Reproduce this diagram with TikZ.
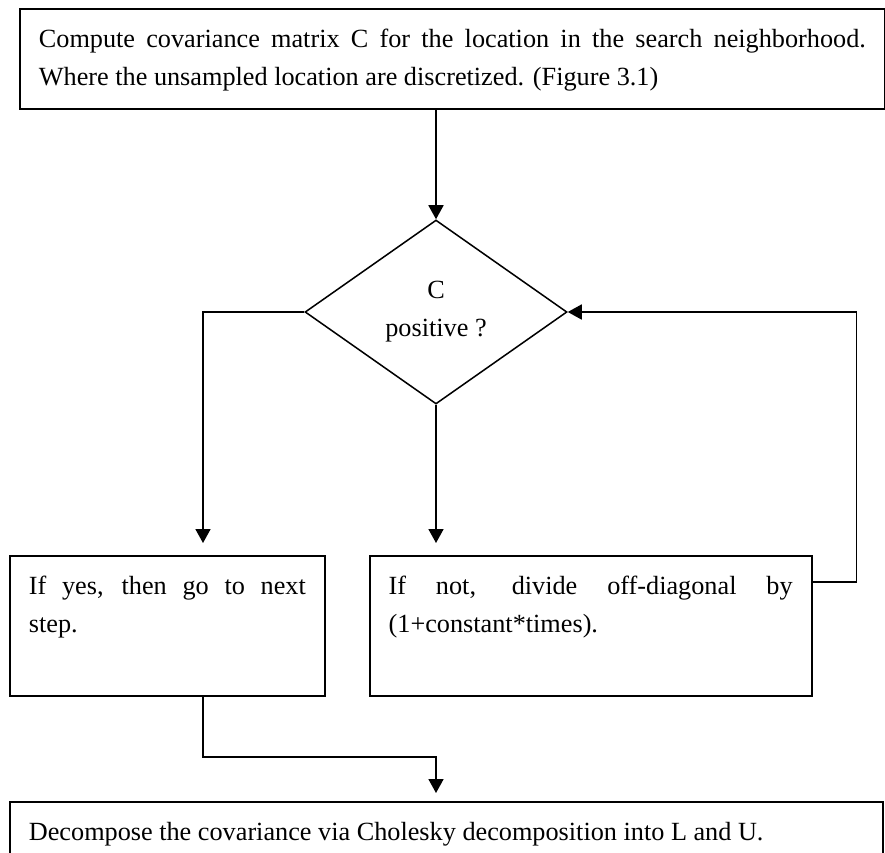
\documentclass[tikz,border=0pt]{standalone}
\usepackage{fontspec}
\setmainfont{Liberation Serif}
\usetikzlibrary{positioning,arrows.meta,shapes.geometric}
\hyphenpenalty=10000
\exhyphenpenalty=10000
\tolerance=9999

\begin{document}
\begin{tikzpicture}[
    font=\fontsize{22.4pt}{32.3pt}\selectfont,
    box/.style={draw, line width=1.5pt, anchor=north west, align=justify,
                inner xsep=0.57cm, inner ysep=0.6cm, text depth=2.46cm},
    test/.style={draw, diamond, aspect=1.42, line width=1.3pt, align=center,
                 inner sep=0pt, minimum width=7.86cm, minimum height=5.52cm},
    arr/.style={-{Triangle[length=0.42cm,width=0.45cm]}, line width=1.5pt}
  ]
  \useasboundingbox (0,0) rectangle (26.55,-25.56);

  % covariance and test
  \node[box, text width=24.81cm, text depth=1.26cm] (cov) at (0.57,-0.24)
    {Compute covariance matrix C for the location in the search neighborhood.\linebreak
     Where the unsampled location are discretized. (Figure 3.1)};
  \node[test] (pos) at (13.08,-9.36) {C\\positive ?};

  % the two branches
  \node[box, text width=8.31cm] (yes) at (0.27,-16.65)
    {If yes, then go to next\linebreak step.};
  \node[box, text width=12.12cm, right=1.29cm of yes.north east, anchor=north west] (no)
    {If not, divide off-diagonal by\linebreak (1+constant*times).};

  \node[box, text width=25.05cm, text depth=2cm] (chol) at (0.27,-24.03)
    {Decompose the covariance via Cholesky decomposition into L and U.};

  \coordinate (yesin) at (6.09,-16.65);

  \draw[arr] (pos.north |- cov.south) -- (pos.north);
  \draw[arr, shorten >=0.36cm] (pos.west) -| (yesin);
  \draw[arr, shorten >=0.36cm] (pos.south) -- (pos.south |- no.north);
  \draw[arr] ([yshift=-0.81cm]no.north east) -- ++(1.32,0) |- (pos.east);
  \draw[arr, shorten >=0.24cm] (yesin |- yes.south) -- ++(0,-1.8) -| (pos.south |- chol.north);
\end{tikzpicture}
\end{document}
